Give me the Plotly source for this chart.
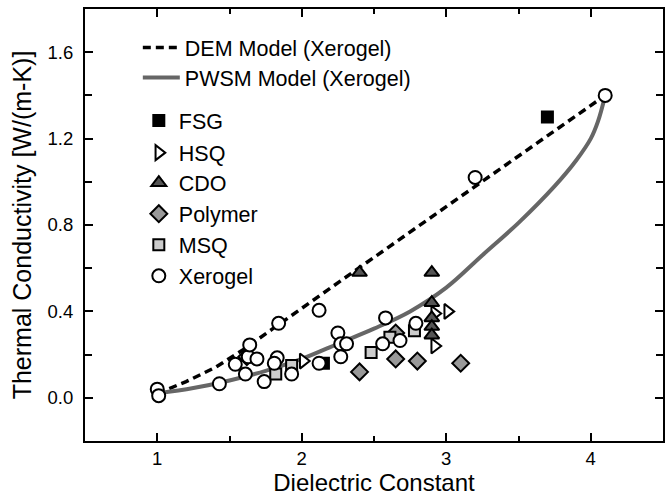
import plotly.graph_objects as go

# ---- data ----
dem_x = [1.0, 1.2, 1.4, 1.6, 1.8, 2.0, 2.5, 3.0, 3.5, 4.1]
dem_y = [0.02, 0.075, 0.14, 0.225, 0.32, 0.415, 0.65, 0.885, 1.12, 1.40]

pwsm_x = [1.0, 1.25, 1.5, 1.75, 2.0, 2.25, 2.5, 2.75, 3.0, 3.25, 3.5, 3.75, 3.9, 4.0, 4.05, 4.1]
pwsm_y = [0.02, 0.045, 0.08, 0.125, 0.18, 0.25, 0.32, 0.40, 0.51, 0.66, 0.81, 0.98, 1.10, 1.20, 1.28, 1.40]

fsg_x = [3.70, 2.15]
fsg_y = [1.30, 0.16]

hsq_x = [2.01, 3.01, 2.92, 2.92]
hsq_y = [0.17, 0.40, 0.39, 0.24]

cdo_x = [2.40, 2.90, 2.90, 2.90, 2.90, 2.90]
cdo_y = [0.58, 0.58, 0.44, 0.37, 0.33, 0.29]

poly_x = [2.40, 2.65, 2.80, 3.10, 2.65, 1.62]
poly_y = [0.12, 0.18, 0.17, 0.16, 0.30, 0.19]

msq_x = [1.82, 1.93, 2.48, 2.61, 2.78]
msq_y = [0.11, 0.15, 0.21, 0.28, 0.31]

xero_x = [1.00, 1.01, 1.43, 1.54, 1.61, 1.63, 1.64, 1.69, 1.74, 1.84, 1.83, 1.81, 1.93,
          2.12, 2.12, 2.25, 2.27, 2.31, 2.27, 2.58, 2.56, 2.68, 2.79, 3.20, 4.10]
xero_y = [0.04, 0.01, 0.065, 0.155, 0.11, 0.19, 0.245, 0.18, 0.075, 0.345, 0.185, 0.16, 0.11,
          0.405, 0.16, 0.30, 0.25, 0.25, 0.19, 0.37, 0.25, 0.265, 0.345, 1.02, 1.40]

FONT = "Liberation Sans, Arial, sans-serif"

fig = go.Figure()

fig.add_trace(go.Scatter(x=dem_x, y=dem_y, mode="lines", name="DEM Model (Xerogel)",
                         line=dict(color="black", width=3.5, dash="8px,5px"), legend="legend"))
fig.add_trace(go.Scatter(x=pwsm_x, y=pwsm_y, mode="lines", name="PWSM Model (Xerogel)",
                         line=dict(color="#666666", width=4, shape="spline"), legend="legend2"))

series = [
    ("FSG", fsg_x, fsg_y, "square", "black", 11, "legend3"),
    ("HSQ", hsq_x, hsq_y, "triangle-right", "white", 13, "legend4"),
    ("CDO", cdo_x, cdo_y, "triangle-up", "#555555", 13, "legend5"),
    ("Polymer", poly_x, poly_y, "diamond", "#999999", 13, "legend6"),
    ("MSQ", msq_x, msq_y, "square", "#cccccc", 11, "legend7"),
    ("Xerogel", xero_x, xero_y, "circle", "white", 13, "legend8"),
]
for name, sx, sy, sym, col, size, lg in series:
    fig.add_trace(go.Scatter(x=sx, y=sy, mode="markers", name=name, legend=lg,
                             marker=dict(symbol=sym, color=col, size=size,
                                         line=dict(color="black", width=2))))

# legend positions (pixel y centres of entries)
plot_top, plot_bot, plot_left, plot_w = 9.5, 441.0, 85.0, 580.0
legend_px = [48, 78, 121, 153, 183, 214, 245, 276]
layout_legends = {}
for i, py in enumerate(legend_px):
    key = "legend" if i == 0 else f"legend{i+1}"
    is_line = i < 2
    lx = 138 if is_line else 139
    layout_legends[key] = dict(
        x=(lx - plot_left) / plot_w,
        y=(plot_bot - py) / (plot_bot - plot_top),
        xanchor="left", yanchor="middle",
        bgcolor="rgba(0,0,0,0)", borderwidth=0,
        itemwidth=37 if is_line else 30,
        font=dict(family=FONT, size=21.5, color="black"),
    )

fig.update_layout(
    width=666, height=497,
    margin=dict(l=85, r=1, t=9, b=56),
    paper_bgcolor="white", plot_bgcolor="white",
    font=dict(family=FONT, color="black"),
    showlegend=True,
    **layout_legends,
)

fig.update_xaxes(
    range=[0.5, 4.5], tickvals=[1, 2, 3, 4], ticktext=["1", "2", "3", "4"],
    showgrid=False, zeroline=False, showline=True, linecolor="black", linewidth=2,
    mirror="ticks", ticks="inside", ticklen=8, tickwidth=2, tickcolor="black",
    tickfont=dict(family=FONT, size=18.5),
    minor=dict(tickvals=[1.5, 2.5, 3.5], ticks="inside", ticklen=5, tickwidth=2, tickcolor="black"),
    title=dict(text="Dielectric Constant", font=dict(family=FONT, size=24), standoff=2),
)
fig.update_yaxes(
    range=[-0.2, 1.8], tickvals=[0, 0.4, 0.8, 1.2, 1.6],
    ticktext=["0.0", "0.4", "0.8", "1.2", "1.6"],
    showgrid=False, zeroline=False, showline=True, linecolor="black", linewidth=2,
    mirror="ticks", ticks="inside", ticklen=8, tickwidth=2, tickcolor="black",
    tickfont=dict(family=FONT, size=18.5), ticklabelstandoff=6,
    minor=dict(tickvals=[0.2, 0.6, 1.0, 1.4], ticks="inside", ticklen=7, tickwidth=2, tickcolor="black"),
    title=dict(text="Thermal Conductivity [W/(m-K)]", font=dict(family=FONT, size=25), standoff=9),
)

fig.write_html("out.html")
